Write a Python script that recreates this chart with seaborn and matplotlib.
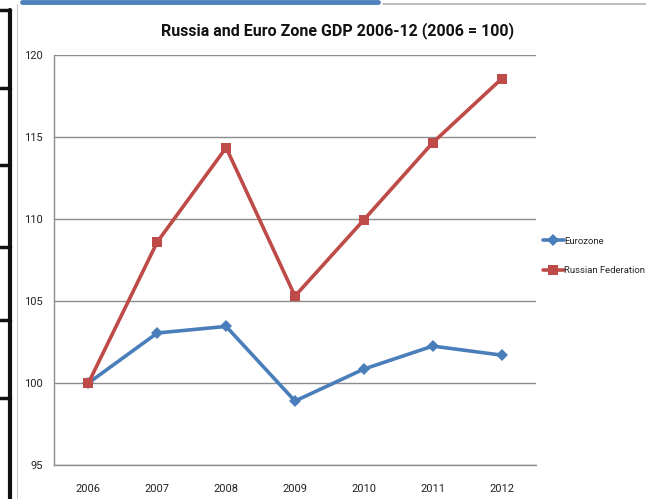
import matplotlib
matplotlib.use("Agg")
import matplotlib.pyplot as plt
import seaborn as sns
import pandas as pd
import numpy as np
from matplotlib.lines import Line2D

years = ["2006", "2007", "2008", "2009", "2010", "2011", "2012"]
eurozone = [100.0, 103.05, 103.45, 98.9, 100.85, 102.25, 101.7]
russia = [100.0, 108.6, 114.35, 105.3, 109.95, 114.65, 118.55]
series_names = ["Eurozone", "Russian Federation"]
yticks = [95, 100, 105, 110, 115, 120]

df = pd.DataFrame({
    "year": years * 2,
    "value": eurozone + russia,
    "series": [series_names[0]] * len(years) + [series_names[1]] * len(years),
})

sns.set_theme(style="white")
plt.rcParams["font.family"] = ["Roboto", "DejaVu Sans"]

fig = plt.figure(figsize=(6.46, 4.99), dpi=100)
ax = fig.add_axes([54 / 646, 1 - 465 / 499, (536 - 54) / 646, (465 - 55) / 499])

palette = {"Eurozone": "#4A7EBB", "Russian Federation": "#BE4B48"}
markers = {"Eurozone": "D", "Russian Federation": "s"}
sns.lineplot(data=df, x="year", y="value", hue="series", style="series",
             palette=palette, markers=markers, dashes=False, linewidth=2.6,
             markersize=7, markeredgewidth=0, ax=ax, sort=False)
for line in ax.lines:
    if line.get_marker() == "D":
        line.set_markersize(6)

ax.set_ylim(95, 120)
ax.set_yticks(yticks)
ax.set_xlim(-0.5, len(years) - 0.5)
ax.set_xlabel("")
ax.set_ylabel("")
ax.grid(axis="y", color="#8c8c8c", linewidth=1)
ax.grid(axis="x", visible=False)
ax.set_axisbelow(True)
for s in ["top", "right"]:
    ax.spines[s].set_visible(False)
for s in ["left", "bottom"]:
    ax.spines[s].set_color("#8c8c8c")
    ax.spines[s].set_linewidth(1)
ax.set_xticks(np.arange(-0.5, len(years) + 0.5, 1), minor=True)
ax.tick_params(axis="x", which="major", length=0, labelsize=8, pad=14, colors="#222222")
ax.tick_params(axis="x", which="minor", direction="in", length=5, color="#8c8c8c")
ax.tick_params(axis="y", which="major", length=5, color="#8c8c8c", direction="out",
               labelsize=8, colors="#222222", pad=3)

ax.legend_.remove()
handles = [Line2D([], [], color=palette[n], marker=("D" if n == "Eurozone" else "s"),
                  markersize=(6 if n == "Eurozone" else 7), markeredgewidth=0,
                  linewidth=2.6) for n in series_names]
fig.legend(handles, series_names, loc="center left", bbox_to_anchor=(539 / 646, 0.487),
           frameon=False, fontsize=6.8, handlelength=2.2, handletextpad=0.1,
           labelspacing=2.2, borderaxespad=0)

fig.text(338 / 646, 1 - 31 / 499, "Russia and Euro Zone GDP 2006-12 (2006 = 100)",
         ha="center", va="center", fontsize=11.5, fontweight="bold", color="#111111")

# decorative page elements
fig.add_artist(Line2D([22 / 646, 378 / 646], [1 - 1.5 / 499] * 2, color="#4F81BD",
                      linewidth=3.5, transform=fig.transFigure))
fig.add_artist(Line2D([383 / 646, 1.0], [1 - 4 / 499] * 2, color="#b0b0b0",
                      linewidth=1.2, transform=fig.transFigure))
fig.add_artist(Line2D([17 / 646] * 2, [0, 1 - 4 / 499], color="#c8c8c8",
                      linewidth=0.8, transform=fig.transFigure))
fig.add_artist(Line2D([10 / 646] * 2, [0, 1 - 10 / 499], color="#111111",
                      linewidth=3, transform=fig.transFigure))
for yy in [10, 88, 165, 247, 320, 398]:
    fig.add_artist(Line2D([0, 10 / 646], [1 - yy / 499] * 2, color="#111111",
                          linewidth=2.5, transform=fig.transFigure))

fig.savefig("out.png", dpi=100)
